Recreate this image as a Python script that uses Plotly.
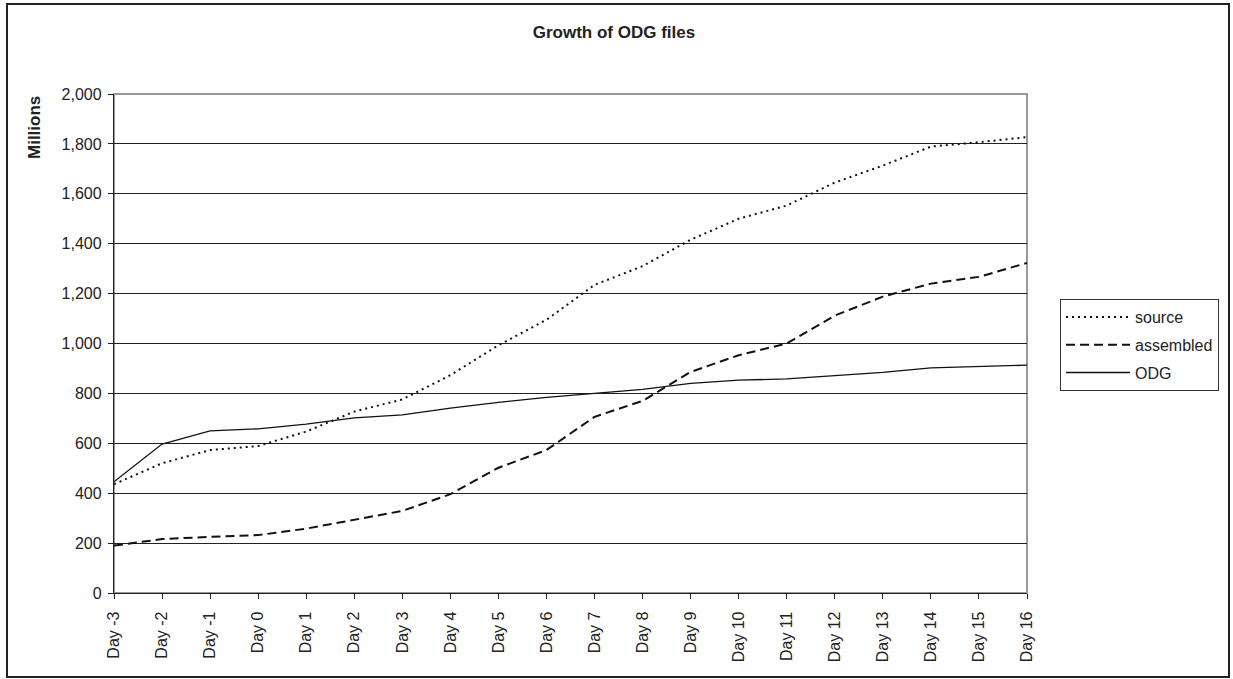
import plotly.graph_objects as go

days = ["Day -3", "Day -2", "Day -1", "Day 0", "Day 1", "Day 2", "Day 3", "Day 4", "Day 5",
        "Day 6", "Day 7", "Day 8", "Day 9", "Day 10", "Day 11", "Day 12", "Day 13", "Day 14",
        "Day 15", "Day 16"]
source = [436, 520, 573, 589, 647, 727, 776, 873, 993, 1095, 1235, 1310, 1416, 1500, 1553,
          1645, 1713, 1789, 1807, 1827]
assembled = [190, 216, 225, 232, 258, 294, 329, 396, 502, 573, 706, 770, 886, 953, 1000,
             1112, 1188, 1240, 1267, 1323]
odg = [446, 597, 650, 658, 677, 702, 714, 741, 764, 784, 800, 816, 840, 853, 858, 870, 884,
       902, 908, 913]
y_ticks = list(range(0, 2001, 200))

W, H = 1233, 679
L, R, T, B = 114, 206, 94, 86
pw, ph = W - L - R, H - T - B

def px_x(p):
    return (p - L) / pw

def px_y(p):
    return (H - B - p) / ph

FONT = "Liberation Sans, Arial, sans-serif"

fig = go.Figure()
fig.add_trace(go.Scatter(x=days, y=source, name="source", mode="lines", legendgroup="a",
                         line=dict(color="#111", width=2, dash="2px,4px")))
fig.add_trace(go.Scatter(x=days, y=assembled, name="assembled", mode="lines", legendgroup="b",
                         line=dict(color="#111", width=2, dash="9px,5px")))
fig.add_trace(go.Scatter(x=days, y=odg, name="ODG", mode="lines", legendgroup="c",
                         line=dict(color="#111", width=1.3)))

fig.update_layout(
    width=W, height=H,
    margin=dict(l=L, r=R, t=T, b=B),
    paper_bgcolor="white", plot_bgcolor="white",
    font=dict(family=FONT, size=16, color="#222"),
    title=dict(text="<b>Growth of ODG files</b>", x=614 / W, xref="container", xanchor="center",
               y=1 - 31.7 / H, yref="container", yanchor="middle",
               font=dict(size=17, family=FONT, color="#222")),
    showlegend=True,
    legend=dict(x=px_x(1060), y=px_y(299), xanchor="left", yanchor="top",
                bordercolor="#333", borderwidth=1, bgcolor="white",
                font=dict(size=16, family=FONT, color="#222"),
                itemwidth=64, tracegroupgap=4),
    xaxis=dict(type="category", range=[0, len(days) - 1], showgrid=False,
               showline=True, linecolor="#222", linewidth=1.3,
               ticks="outside", ticklen=5, tickcolor="#222", tickangle=-90,
               ticklabelstandoff=6,
               tickfont=dict(size=16, family=FONT, color="#222"), zeroline=False),
    yaxis=dict(range=[0, 2000], tickvals=y_ticks, tickformat=",", showgrid=True,
               gridcolor="#222", gridwidth=1, showline=True, linecolor="#222",
               linewidth=1.3, ticks="outside", ticklen=5, tickcolor="#222",
               ticklabelstandoff=3,
               tickfont=dict(size=16, family=FONT, color="#222"), zeroline=False),
)

# plot-area border (gray top/right)
fig.add_shape(type="rect", xref="paper", yref="paper", x0=0, y0=0, x1=1, y1=1,
              line=dict(color="#999", width=2), layer="below")
# outer chart frame
fig.add_shape(type="rect", xref="paper", yref="paper",
              x0=px_x(7), x1=px_x(1229), y0=px_y(677), y1=px_y(4),
              line=dict(color="#222", width=2))

fig.add_annotation(text="<b>Millions</b>", xref="paper", yref="paper",
                   x=px_x(35), y=px_y(128), textangle=-90, showarrow=False,
                   xanchor="center", yanchor="middle",
                   font=dict(size=17, family=FONT, color="#222"))

fig.write_html("out.html")
